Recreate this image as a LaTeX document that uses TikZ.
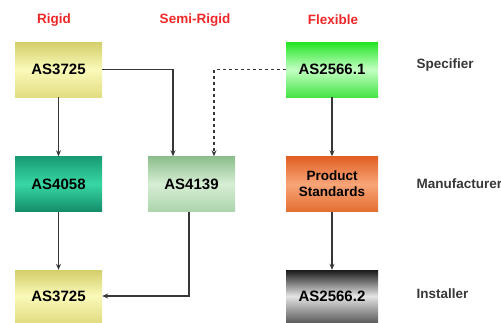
\documentclass[tikz,border=0pt]{standalone}
\usepackage{fontspec}
\setmainfont{Liberation Sans}
\usetikzlibrary{arrows.meta}

\definecolor{headred}{RGB}{238,40,40}
\definecolor{rolegray}{RGB}{55,55,55}
\definecolor{linegray}{RGB}{55,55,55}

\begin{document}
\begin{tikzpicture}[
		x=1pt, y=-1pt,
		every node/.style={font=\bfseries},
		std/.style={rectangle, minimum width=87pt, minimum height=55pt, inner sep=0pt, font=\bfseries\fontsize{15}{17}\selectfont},
		head/.style={text=headred, font=\bfseries\fontsize{13.5}{15}\selectfont},
		role/.style={text=rolegray, anchor=west, font=\bfseries\fontsize{13.5}{15}\selectfont},
		link/.style={draw=linegray, line width=1.1pt, -{Stealth[length=6pt, width=5pt]}}
	]
  \useasboundingbox (0,0) rectangle (501,322);
  \node (h_rigid) [head] at (54, 20) {Rigid};
  \node (h_semi) [head] at (195, 20) {Semi-Rigid};
  \node (h_flex) [head] at (333, 20) {Flexible};
  \node (r_spec) [role] at (413, 65) {Specifier};
  \node (r_manu) [role] at (413, 184) {Manufacturer};
  \node (r_inst) [role] at (413, 294) {Installer};
  \node (s_3725) [std, top color={rgb,255:red,212;green,206;blue,105}, bottom color={rgb,255:red,226;green,220;blue,130}, middle color={rgb,255:red,250;green,250;blue,185}] at (58.5, 69.5) {AS3725};
  \node (s_4058) [std, top color={rgb,255:red,25;green,155;blue,115}, bottom color={rgb,255:red,20;green,140;blue,105}, middle color={rgb,255:red,55;green,215;blue,165}] at (58.5, 184) {AS4058};
  \node (s_3725b) [std, minimum height=52pt, top color={rgb,255:red,212;green,206;blue,105}, bottom color={rgb,255:red,226;green,220;blue,130}, middle color={rgb,255:red,250;green,250;blue,185}] at (58.5, 296) {AS3725};
  \node (s_4139) [std, top color={rgb,255:red,140;green,190;blue,140}, bottom color={rgb,255:red,172;green,212;blue,172}, middle color={rgb,255:red,215;green,238;blue,212}] at (191.5, 184) {AS4139};
  \node (s_2566a) [std, minimum width=92pt, top color={rgb,255:red,35;green,228;blue,35}, bottom color={rgb,255:red,70;green,228;blue,70}, middle color={rgb,255:red,195;green,255;blue,195}] at (332, 69.5) {AS2566.1};
  \node (s_prod) [std, minimum width=92pt, align=center, font=\bfseries\fontsize{13.5}{16}\selectfont, top color={rgb,255:red,225;green,95;blue,35}, bottom color={rgb,255:red,228;green,110;blue,50}, middle color={rgb,255:red,248;green,165;blue,120}] at (332, 184) {Product\\Standards};
  \node (s_2566b) [std, minimum width=92pt, minimum height=52pt, top color={rgb,255:red,25;green,25;blue,25}, bottom color={rgb,255:red,95;green,95;blue,95}, middle color={rgb,255:red,228;green,228;blue,228}] at (332, 296) {AS2566.2};
  \draw [link] (s_3725.east) -| (s_4139.north -| 173, 0);
  \draw [link, dashed] (s_2566a.west) -| (s_4139.north -| 214, 0);
  \draw [link] (s_3725) -- (s_4058);
  \draw [link] (s_4058) -- (s_3725b);
  \draw [link] (s_4139.south -| 189, 0) |- (s_3725b.east);
  \draw [link] (s_2566a) -- (s_prod);
  \draw [link] (s_prod) -- (s_2566b);
\end{tikzpicture}
\end{document}
